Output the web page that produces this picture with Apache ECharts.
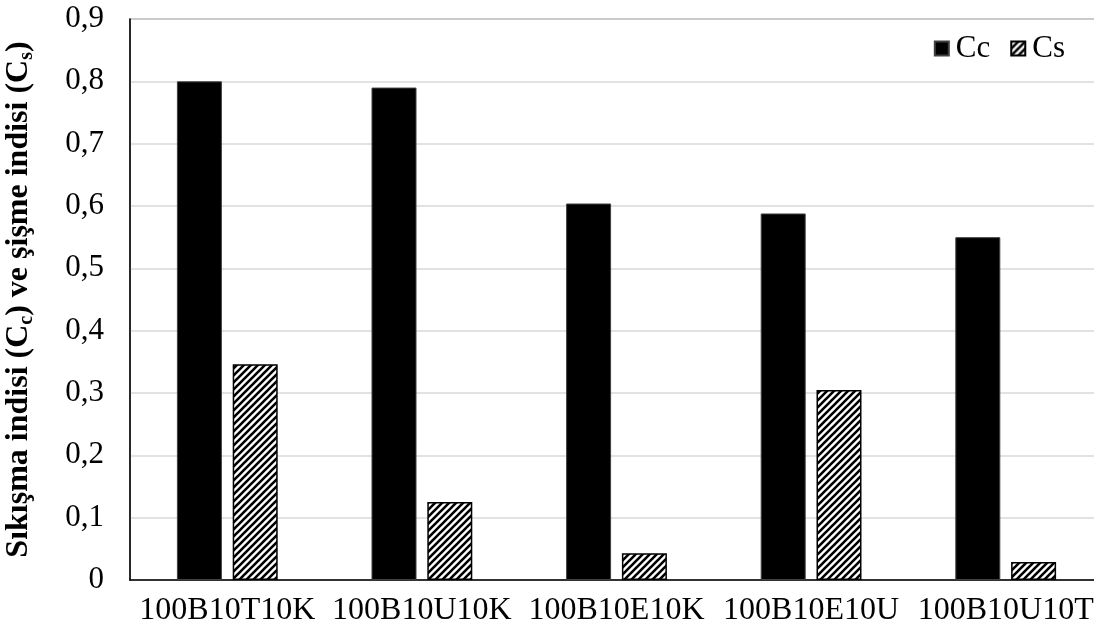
<!DOCTYPE html>
<html>
<head>
<meta charset="utf-8">
<script src="https://cdn.jsdelivr.net/npm/echarts@6/dist/echarts.min.js"></script>
<style>html,body{margin:0;padding:0;background:#fff}#c{width:1094px;height:634px}</style>
</head>
<body>
<div id="c"></div>
<script>
var categories = ['100B10T10K', '100B10U10K', '100B10E10K', '100B10E10U', '100B10U10T'];
var ccValues = [0.80, 0.79, 0.604, 0.588, 0.55];
var csValues = [0.346, 0.125, 0.043, 0.305, 0.029];
var yTicks = ['0', '0,1', '0,2', '0,3', '0,4', '0,5', '0,6', '0,7', '0,8', '0,9'];

function stripes() {
  var c = document.createElement('canvas');
  c.width = 7; c.height = 7;
  var g = c.getContext('2d');
  g.fillStyle = '#fff'; g.fillRect(0, 0, 7, 7);
  g.strokeStyle = '#000'; g.lineWidth = 2.6;
  g.beginPath();
  g.moveTo(-2, 9); g.lineTo(9, -2);
  g.moveTo(-5.5, 5.5); g.lineTo(5.5, -5.5);
  g.moveTo(1.5, 12.5); g.lineTo(12.5, 1.5);
  g.stroke();
  return c;
}
var pat = { image: stripes(), repeat: 'repeat' };
var font = '"Liberation Serif", "Times New Roman", serif';

var chart = echarts.init(document.getElementById('c'), null, { renderer: 'canvas' });
chart.setOption({
  animation: false,
  textStyle: { fontFamily: font },
  grid: { left: 130, top: 19, bottom: 54, right: -9, containLabel: false, outerBoundsMode: 'none',
    show: true, borderColor: '#7f7f7f', borderWidth: 1.5 },
  legend: {
    right: 24, top: 28, itemWidth: 14, itemHeight: 14, itemGap: 20, icon: 'rect',
    textStyle: { fontFamily: font, fontSize: 31, color: '#000', padding: [0, 0, 0, 2] },
    data: ['Cc', 'Cs']
  },
  xAxis: {
    type: 'category', data: categories,
    axisLine: { lineStyle: { color: '#000', width: 1.5 } },
    axisTick: { show: false },
    axisLabel: { fontFamily: font, fontSize: 32, color: '#000', margin: 15, interval: 0 }
  },
  yAxis: {
    type: 'value', min: 0, max: 0.9, interval: 0.1,
    axisLine: { show: true, lineStyle: { color: '#000', width: 1.5 } },
    axisTick: { show: false },
    splitLine: { lineStyle: { color: '#d9d9d9', width: 1.5 } },
    axisLabel: {
      fontFamily: font, fontSize: 31, color: '#000', margin: 26,
      formatter: function (v) { return yTicks[Math.round(v * 10)]; }
    },
    name: '{b|Sıkışma indisi (C}{s|c}{b|) ve şişme indisi (C}{s|s}{b|)}',
    nameLocation: 'middle', nameRotate: 90, nameGap: 93,
    nameTextStyle: {
      rich: {
        b: { fontFamily: font, fontWeight: 'bold', fontSize: 32, color: '#000' },
        s: { fontFamily: font, fontWeight: 'bold', fontSize: 20, color: '#000', verticalAlign: 'bottom', padding: [16, 0, 0, 0] }
      }
    }
  },
  series: [
    { name: 'Cc', type: 'bar', data: ccValues, barWidth: 45, barGap: '24%',
      itemStyle: { color: '#000', borderColor: '#404040', borderWidth: 1 } },
    { name: 'Cs', type: 'bar', data: csValues, barWidth: 45,
      itemStyle: { color: pat, borderColor: '#000', borderWidth: 1.5 } }
  ]
});
</script>
</body>
</html>
